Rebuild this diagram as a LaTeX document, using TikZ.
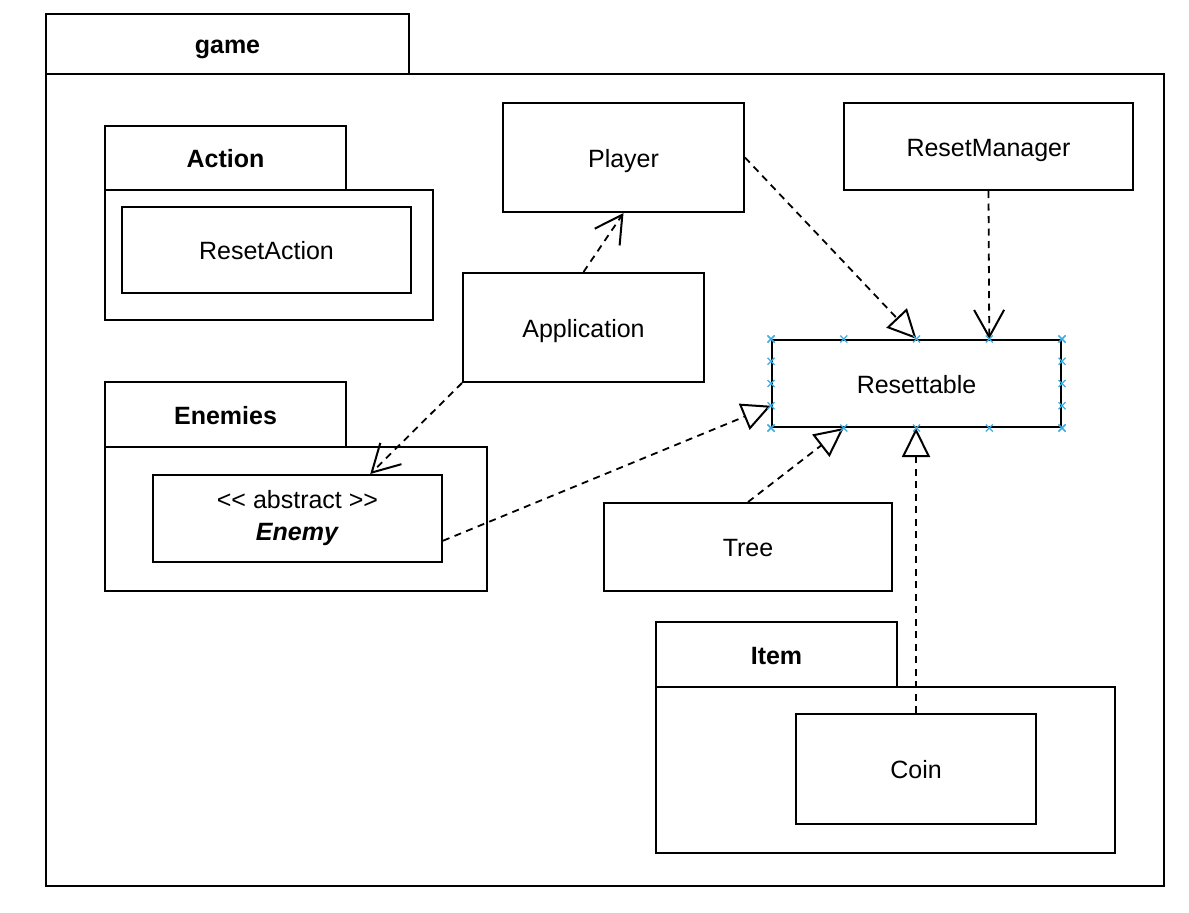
\documentclass[tikz,border=0pt]{standalone}
\usepackage{fontspec}
\setmainfont{Liberation Sans}
\usetikzlibrary{arrows.meta,calc}
\definecolor{handle}{RGB}{60,172,228}
\begin{document}
\begin{tikzpicture}[x=1pt,y=-1pt,
  every node/.style={font=\fontsize{25}{31}\selectfont},
  box/.style={draw, line width=2pt, inner sep=0pt, anchor=north west, align=center},
  one/.style={text height=19.5pt, text depth=0pt},
  tabtext/.style={font=\fontsize{25}{31}\selectfont\bfseries},
  dep/.style={line width=1.8pt, dash pattern=on 7pt off 5.5pt, -{Straight Barb[length=27pt,width=30pt,line width=2pt]}},
  real/.style={line width=1.8pt, dash pattern=on 7pt off 5.5pt, -{Triangle[open,length=29pt,width=28pt,line width=2pt]}},
  hmark/.style={draw=handle, line width=1.2pt}
]
\useasboundingbox (0,0) rectangle (1189,913);
% game package
\node[box, one, tabtext, minimum width=363pt, minimum height=60pt] (gameTab) at (45,13) {game};
\node[box, minimum width=1118pt, minimum height=812pt] (gameBody) at (45,73) {};
% Action package
\node[box, one, tabtext, minimum width=241pt, minimum height=64pt] (actionTab) at (104,125) {Action};
\node[box, minimum width=328pt, minimum height=130pt] (actionBody) at (104,189) {};
\node[box, one, minimum width=289pt, minimum height=86pt] (resetAction) at (121,206) {ResetAction};
% classes
\node[box, one, minimum width=241pt, minimum height=109pt] (player) at (502,102) {Player};
\node[box, one, minimum width=289pt, minimum height=87pt] (resetManager) at (843,102) {ResetManager};
\node[box, one, minimum width=241pt, minimum height=109pt] (application) at (462,272) {Application};
\node[box, one, minimum width=289pt, minimum height=87pt] (resettable) at (771,339) {Resettable};
% Enemies package
\node[box, one, tabtext, minimum width=241pt, minimum height=65pt] (enemiesTab) at (104,381) {Enemies};
\node[box, minimum width=382pt, minimum height=144pt] (enemiesBody) at (104,446) {};
\node[box, minimum width=289pt, minimum height=87pt] (enemy) at (152,474) {<\kern0pt< abstract >\kern0pt>\\[1pt]\textbf{\textit{Enemy}}};
% Tree
\node[box, one, minimum width=288pt, minimum height=88pt] (tree) at (603,502) {Tree};
% Item package
\node[box, one, tabtext, minimum width=241pt, minimum height=65pt] (itemTab) at (655,621) {Item};
\node[box, minimum width=459pt, minimum height=166pt] (itemBody) at (655,686) {};
\node[box, one, minimum width=240pt, minimum height=110pt] (coin) at (795,713) {Coin};
% connectors
\draw[real] (player.east) -- (resettable.north);
\draw[dep] (resetManager.south) -- ($(resettable.north)!0.5!(resettable.north east)$);
\draw[dep] (application.north) -- (player.south);
\draw[dep] (application.south west) -- ($(enemy.north west)!0.75!(enemy.north east)$);
\draw[real] ($(enemy.east)!0.5!(enemy.south east)$) -- ($(resettable.west)!0.5!(resettable.south west)$);
\draw[real] (tree.north) -- ($(resettable.south west)!0.25!(resettable.south east)$);
\draw[real] (coin.north) -- (coin.north |- resettable.south);
% connection handles on Resettable
\foreach \f in {0,0.25,0.5,0.75,1}{
  \coordinate (ht) at ($(resettable.north west)!\f!(resettable.north east)$);
  \coordinate (hb) at ($(resettable.south west)!\f!(resettable.south east)$);
  \coordinate (hl) at ($(resettable.north west)!\f!(resettable.south west)$);
  \coordinate (hr) at ($(resettable.north east)!\f!(resettable.south east)$);
  \foreach \c in {ht,hb,hl,hr}{
    \draw[hmark] (\c) ++(-3.5,-3.5) -- ++(7,7) ++(0,-7) -- ++(-7,7);
  }
}
\end{tikzpicture}
\end{document}
